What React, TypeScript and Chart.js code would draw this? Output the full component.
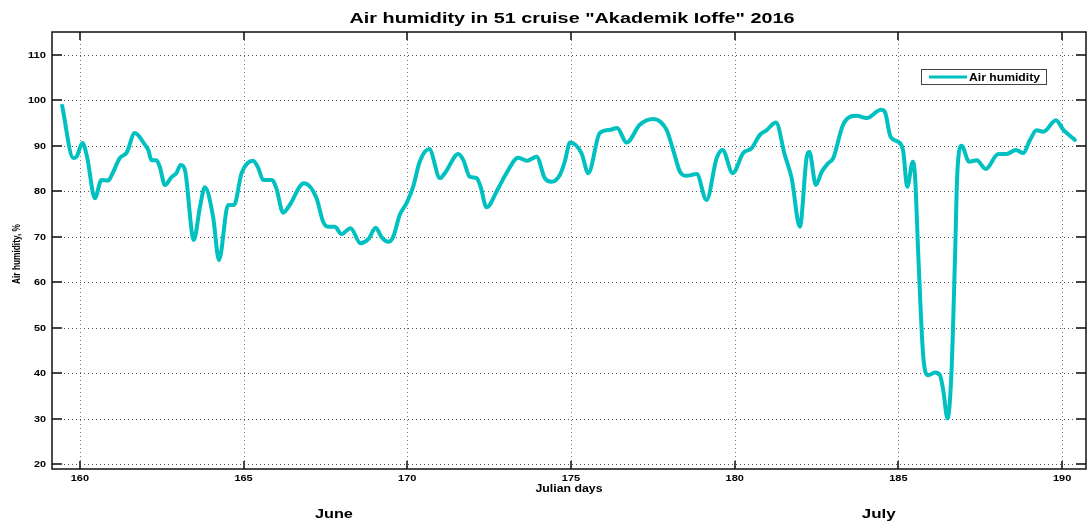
import React, { useEffect, useRef } from "react";
import { Chart, registerables } from "chart.js";

Chart.register(...registerables);

const days = [
  159.46, 159.8, 159.9, 160.08, 160.22, 160.46, 160.66, 160.87, 160.97, 161.22,
  161.43, 161.68, 161.99, 162.09, 162.19, 162.34, 162.44, 162.6, 162.8, 162.95,
  163.08, 163.21, 163.48, 163.67, 163.82, 164.07, 164.25, 164.53, 164.71, 164.94,
  165.29, 165.45, 165.6, 165.86, 166.0, 166.21, 166.41, 166.84, 167.23, 167.43,
  167.58, 167.79, 167.99, 168.27, 168.57, 168.81, 169.04, 169.21, 169.42, 169.57,
  169.77, 169.98, 170.18, 170.38, 170.67, 171.0, 171.15, 171.56, 171.71, 171.91,
  172.12, 172.24, 172.42, 172.78, 173.03, 173.39, 173.66, 173.95, 174.2, 174.41,
  174.66, 174.81, 174.97, 175.32, 175.53, 175.88, 176.19, 176.41, 176.7, 177.1,
  177.51, 177.92, 178.12, 178.33, 178.53, 178.84, 179.14, 179.45, 179.63, 179.94,
  180.26, 180.52, 180.77, 180.97, 181.26, 181.53, 181.74, 181.99, 182.2, 182.28,
  182.48, 182.66, 182.86, 183.01, 183.31, 183.72, 184.03, 184.47, 184.59, 184.76,
  185.05, 185.15, 185.27, 185.44, 185.51, 185.61, 185.76, 185.91, 186.12, 186.27,
  186.37, 186.5, 186.62, 186.73, 186.8, 186.93, 187.16, 187.39, 187.67, 188.05,
  188.3, 188.59, 188.81, 189.02, 189.22, 189.43, 189.81, 190.04, 190.39,
];

const humidity = [
  98.8, 87.3, 87.6, 90.6, 87.6, 78.5, 82.5, 82.4, 83.5, 87.3,
  88.5, 92.8, 90.2, 89.1, 86.8, 86.8, 85.4, 81.4, 83.1, 84.0,
  85.8, 84.7, 69.3, 76.6, 80.9, 74.4, 64.9, 77.0, 77.0, 84.0,
  86.7, 85.1, 82.5, 82.5, 80.7, 75.3, 77.0, 81.8, 78.5, 73.3,
  72.2, 72.2, 70.6, 71.9, 68.6, 69.5, 72.0, 70.0, 68.9, 70.0,
  74.8, 77.4, 81.0, 86.5, 89.3, 82.9, 84.0, 88.2, 86.9, 83.2,
  82.9, 81.0, 76.5, 80.7, 84.0, 87.4, 86.7, 87.6, 82.9, 82.1,
  83.6, 86.5, 90.7, 88.4, 84.0, 92.8, 93.5, 93.9, 90.7, 94.6,
  95.9, 93.5, 89.1, 84.3, 83.4, 83.8, 78.1, 87.3, 89.1, 84.0,
  88.4, 89.5, 92.4, 93.4, 95.1, 88.0, 82.9, 72.2, 87.6, 88.7,
  81.4, 84.3, 86.2, 87.3, 94.6, 96.6, 96.1, 97.9, 97.4, 92.0,
  90.6, 88.7, 81.0, 86.5, 83.2, 65.6, 43.7, 39.6, 40.2, 39.6,
  36.3, 30.1, 40.0, 65.6, 84.0, 90.0, 86.5, 86.8, 84.9, 88.2,
  88.2, 89.1, 88.4, 91.3, 93.4, 93.1, 95.6, 93.5, 91.3,
];

const xTicks = [160, 165, 170, 175, 180, 185, 190];
const yTicks = [20, 30, 40, 50, 60, 70, 80, 90, 100, 110];
const monthLabels = ["June", "July"];
const monthDays = [167.76, 184.4];

const TITLE = 'Air humidity in 51 cruise "Akademik Ioffe" 2016';
const SERIES = "Air humidity";
const LINE_COLOR = "#00C0C0";
const FONT = '"Liberation Sans", Arial, sans-serif';

function drawText(
  ctx: CanvasRenderingContext2D,
  s: string,
  x: number,
  y: number,
  size: number,
  align: CanvasTextAlign,
  baseline: CanvasTextBaseline,
  opts: { width?: number; sx?: number; rotate?: boolean } = {}
) {
  ctx.save();
  ctx.font = `bold ${size}px ${FONT}`;
  const w = ctx.measureText(s).width;
  const sx = opts.width ? opts.width / w : opts.sx || 1;
  ctx.translate(x, y);
  if (opts.rotate) ctx.rotate(-Math.PI / 2);
  ctx.scale(sx, 1);
  ctx.textAlign = align;
  ctx.textBaseline = baseline;
  ctx.fillStyle = "#000";
  ctx.fillText(s, 0, 0);
  ctx.restore();
}

const decorPlugin = {
  id: "decor",
  beforeDatasetsDraw(chart: any) {
    const { ctx, chartArea: a, scales } = chart;
    const xs = scales.x;
    const ys = scales.y;
    ctx.save();
    ctx.lineWidth = 1;
    ctx.strokeStyle = "#555";
    ctx.setLineDash([1, 3]);
    yTicks.forEach((t) => {
      const y = Math.round(ys.getPixelForValue(t)) + 0.5;
      ctx.beginPath();
      ctx.moveTo(a.left, y);
      ctx.lineTo(a.right, y);
      ctx.stroke();
    });
    ctx.strokeStyle = "#777";
    xTicks.forEach((t) => {
      const x = Math.round(xs.getPixelForValue(t)) + 0.5;
      ctx.beginPath();
      ctx.moveTo(x, a.top);
      ctx.lineTo(x, a.bottom);
      ctx.stroke();
    });
    ctx.setLineDash([]);
    ctx.strokeStyle = "#444";
    ctx.lineWidth = 2;
    yTicks.forEach((t) => {
      const y = Math.round(ys.getPixelForValue(t));
      ctx.beginPath();
      ctx.moveTo(a.left, y);
      ctx.lineTo(a.left + 10, y);
      ctx.moveTo(a.right, y);
      ctx.lineTo(a.right - 10, y);
      ctx.stroke();
    });
    xTicks.forEach((t) => {
      const x = Math.round(xs.getPixelForValue(t));
      ctx.beginPath();
      ctx.moveTo(x, a.bottom);
      ctx.lineTo(x, a.bottom - 8);
      ctx.moveTo(x, a.top);
      ctx.lineTo(x, a.top + 8);
      ctx.stroke();
    });
    ctx.strokeStyle = "#111";
    ctx.lineWidth = 1.5;
    ctx.strokeRect(a.left, a.top, a.right - a.left, a.bottom - a.top);
    ctx.restore();
  },
  afterDraw(chart: any) {
    const { ctx, chartArea: a, scales } = chart;
    const xs = scales.x;
    const ys = scales.y;
    yTicks.forEach((t) => {
      const s = String(t);
      drawText(ctx, s, a.left - 6, ys.getPixelForValue(t) + 0.5, 9, "right", "middle", { width: s.length * 6 });
    });
    xTicks.forEach((t) => {
      const s = String(t);
      drawText(ctx, s, xs.getPixelForValue(t), a.bottom + 11.5, 9, "center", "alphabetic", { width: s.length * 6.1 });
    });
    drawText(ctx, TITLE, (a.left + a.right) / 2 + 3, 23, 15.5, "center", "alphabetic", { width: 445 });
    drawText(ctx, "Julian days", (a.left + a.right) / 2, 492, 10, "center", "alphabetic", { width: 67 });
    drawText(ctx, "Air humidity, %", 20, 254, 11, "center", "alphabetic", { width: 60, rotate: true });
    monthLabels.forEach((m, i) => {
      drawText(ctx, m, xs.getPixelForValue(monthDays[i]), 518, 13.5, "center", "alphabetic", { width: m === "June" ? 38 : 34 });
    });
    ctx.save();
    ctx.fillStyle = "#fff";
    ctx.fillRect(921, 69, 126, 16);
    ctx.strokeStyle = "#444";
    ctx.lineWidth = 1;
    ctx.strokeRect(921.5, 69.5, 125, 15);
    ctx.strokeStyle = LINE_COLOR;
    ctx.lineWidth = 3;
    ctx.beginPath();
    ctx.moveTo(929, 77);
    ctx.lineTo(967, 77);
    ctx.stroke();
    ctx.restore();
    drawText(ctx, SERIES, 969, 80.5, 10, "left", "alphabetic", { width: 71 });
  },
};

export default function App() {
  const ref = useRef<HTMLCanvasElement | null>(null);
  useEffect(() => {
    document.body.style.margin = "0";
    const canvas = ref.current;
    if (!canvas) return;
    const chart = new Chart(canvas, {
      type: "line",
      data: {
        datasets: [
          {
            label: SERIES,
            data: days.map((d, i) => ({ x: d, y: humidity[i] })),
            borderColor: LINE_COLOR,
            backgroundColor: LINE_COLOR,
            borderWidth: 4,
            pointRadius: 0,
            cubicInterpolationMode: "monotone",
            borderCapStyle: "round",
            borderJoinStyle: "round",
            fill: false,
          },
        ],
      },
      options: {
        animation: false,
        responsive: false,
        layout: { padding: { left: 52, top: 32, right: 1, bottom: 53 } },
        plugins: { legend: { display: false }, title: { display: false }, tooltip: { enabled: false } },
        scales: {
          x: { type: "linear", min: 159.15, max: 190.73, display: false },
          y: { type: "linear", min: 19, max: 115, display: false },
        },
      },
      plugins: [decorPlugin],
    });
    return () => chart.destroy();
  }, []);
  return (
    <div style={{ width: 1087, height: 522, background: "#fff" }}>
      <canvas ref={ref} width={1087} height={522} />
    </div>
  );
}
